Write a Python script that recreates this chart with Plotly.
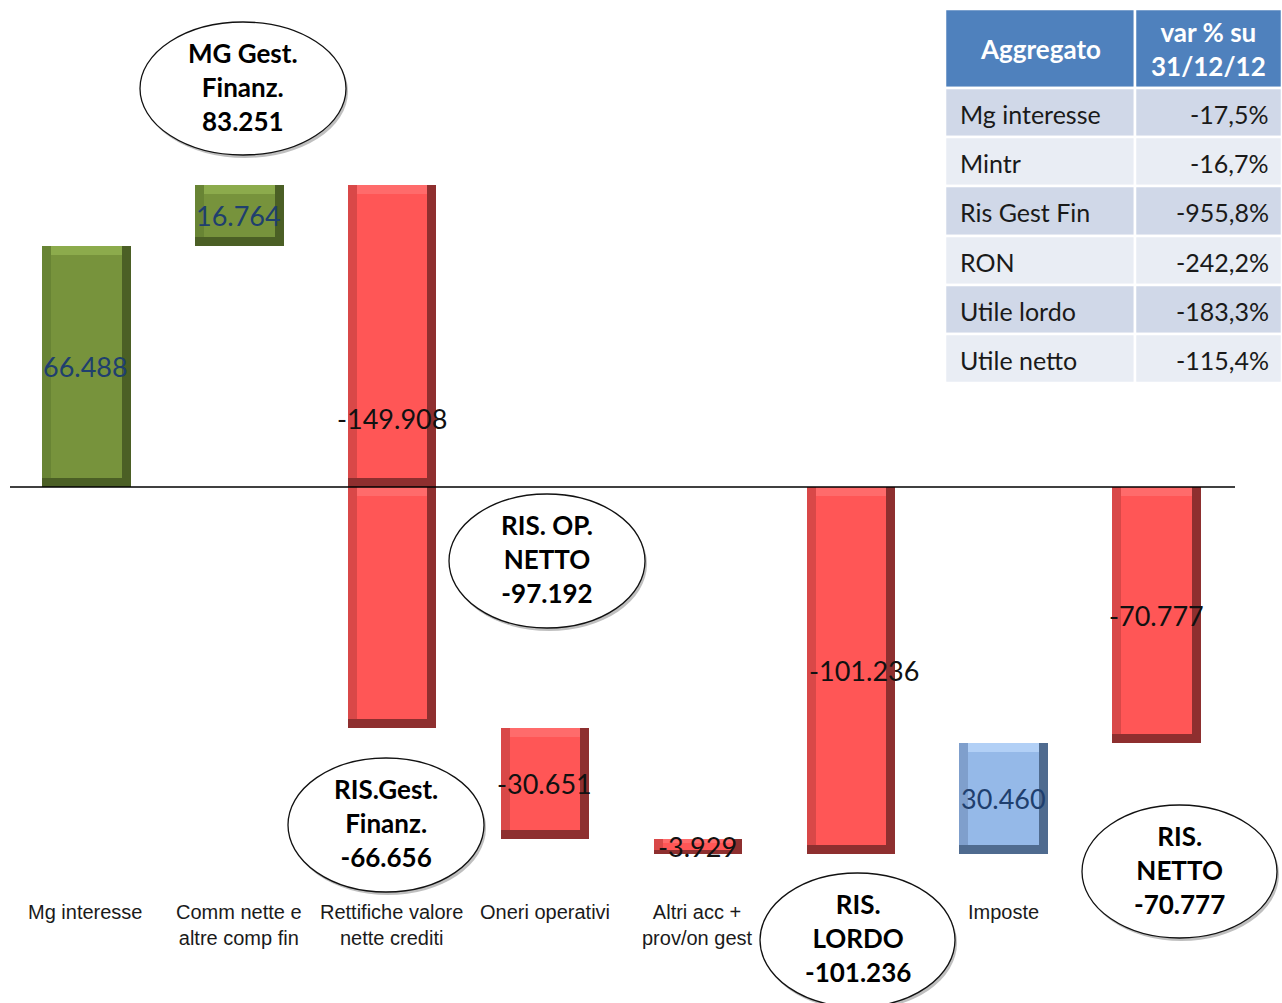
import plotly.graph_objects as go

# ---- data -------------------------------------------------------------
categories = ["Mg interesse", "Comm nette e<br>altre comp fin", "Rettifiche valore<br>nette crediti",
              "Oneri operativi", "Altri acc +<br>prov/on gest", "RIS. LORDO", "Imposte", "RIS. NETTO"]
axis_labels = ["Mg interesse", "Comm nette e<br>altre comp fin", "Rettifiche valore<br>nette crediti",
               "Oneri operativi", "Altri acc +<br>prov/on gest", "", "Imposte", ""]
values = [66.488, 16.764, -149.908, -30.651, -3.929, -101.236, 30.460, -70.777]
measures = ["relative", "relative", "relative", "relative", "relative", "total", "relative", "total"]
value_labels = ["66.488", "16.764", "-149.908", "-30.651", "-3.929", "-101.236", "30.460", "-70.777"]
bar_groups = ["green", "green", "red", "red", "red", "red", "blue", "red"]

callout_texts = ["MG Gest.<br>Finanz.<br>83.251", "RIS.Gest.<br>Finanz.<br>-66.656",
                 "RIS. OP.<br>NETTO<br>-97.192", "RIS.<br>LORDO<br>-101.236",
                 "RIS.<br>NETTO<br>-70.777"]

table_header = ["Aggregato", "var % su<br>31/12/12"]
table_names = ["Mg interesse", "Mintr", "Ris Gest Fin", "RON", "Utile lordo", "Utile netto"]
table_changes = ["-17,5%", "-16,7%", "-955,8%", "-242,2%", "-183,3%", "-115,4%"]

# ---- styling ------------------------------------------------------------
W, H = 1282, 1003
ZERO_PX = 487          # vertical pixel of the zero line
PX_PER_UNIT = 3.622    # vertical scale
X_LEFT, X_RIGHT = 9.5, 1232.5
STEP_PX = (X_RIGHT - X_LEFT) / 8

palette = {
    #        dark edge   side edge   top edge    face        label colour
    "green": ("#4b5f25", "#688434", "#8cab4c", "#77933c", "#1f3f6e"),
    "red":   ("#8e2f2f", "#d94848", "#ff6b6b", "#ff5656", "#111111"),
    "blue":  ("#4f6b8f", "#7f9fcc", "#b2d0f6", "#95b9e8", "#1f3f6e"),
}

def px(x):
    return x / W

def py(y):
    return 1 - y / H

# ---- waterfall geometry -------------------------------------------------
segments = []   # (x index, low, high, group)
bar_ranges = []
running = 0.0
for i, (v, m) in enumerate(zip(values, measures)):
    if m == "total":
        start, end = 0.0, v
        running = v
    else:
        start, end = running, running + v
        running = end
    lo, hi = min(start, end), max(start, end)
    bar_ranges.append((lo, hi))
    # bars crossing zero are drawn as two blocks meeting at the axis
    if lo < 0 < hi:
        segments.append((i, 0.0, hi, bar_groups[i]))
        segments.append((i, lo, 0.0, bar_groups[i]))
    else:
        segments.append((i, lo, hi, bar_groups[i]))

bar_w = 88.5 / STEP_PX
bev_x = 9 / STEP_PX
bev_y_full = 9 / PX_PER_UNIT

layers = {k: dict(x=[], base=[], y=[], width=[], offset=[], color=[]) for k in ("dark", "side", "top", "face")}

def add(layer, x, base, h, width, offset, color):
    d = layers[layer]
    d["x"].append(x); d["base"].append(base); d["y"].append(h)
    d["width"].append(width); d["offset"].append(offset); d["color"].append(color)

for i, lo, hi, g in segments:
    dark, side, top, face, _ = palette[g]
    h = hi - lo
    by = min(bev_y_full, h * 0.25)
    add("dark", i, lo, h, bar_w, -bar_w / 2, dark)
    add("side", i, lo + by, h - by, bar_w - bev_x, -bar_w / 2, side)
    add("top", i, hi - by, by, bar_w - 2 * bev_x, -bar_w / 2 + bev_x, top)
    add("face", i, lo + by, h - 2 * by, bar_w - 2 * bev_x, -bar_w / 2 + bev_x, face)

fig = go.Figure()
for name in ("dark", "side", "top", "face"):
    d = layers[name]
    fig.add_trace(go.Bar(
        x=d["x"], y=d["y"], base=d["base"], width=d["width"], offset=d["offset"],
        marker=dict(color=d["color"], line=dict(width=0)),
        hoverinfo="skip", showlegend=False,
    ))

# ---- value labels inside the bars --------------------------------------
label_override = {2: 19.0}   # the crossing bar carries its label above the axis
label_xshift = {5: 14}
for i, (lo, hi) in enumerate(bar_ranges):
    yc = label_override.get(i, (lo + hi) / 2)
    fig.add_annotation(
        x=i, y=yc, xref="x", yref="y", text=value_labels[i], showarrow=False,
        xshift=label_xshift.get(i, 0),
        font=dict(family="Lato, Open Sans, sans-serif", size=27, color=palette[bar_groups[i]][4]),
        xanchor="center", yanchor="middle",
    )

# ---- category labels under the plot ------------------------------------
for i, lab in enumerate(axis_labels):
    if not lab:
        continue
    fig.add_annotation(
        x=i, y=py(899), xref="x", yref="paper", text=lab, showarrow=False,
        font=dict(family="Liberation Sans, Arial, sans-serif", size=20, color="#1a1a1a"),
        xanchor="center", yanchor="top", align="center",
    )

shapes = []
# zero line
shapes.append(dict(type="line", xref="paper", yref="y", x0=px(10), x1=px(1235), y0=0, y1=0,
                   line=dict(color="#000000", width=1.5), layer="above"))

# ---- callout ellipses -------------------------------------------------
ellipses = [(140, 22, 346, 155), (288, 758, 484, 892), (449, 494, 645, 628),
            (760, 873, 955, 1007), (1082, 805, 1277, 938)]
for (x0, y0, x1, y1), txt in zip(ellipses, callout_texts):
    shapes.append(dict(type="circle", xref="paper", yref="paper",
                       x0=px(x0 + 2), x1=px(x1 + 2), y0=py(y1 + 3), y1=py(y0 + 3),
                       fillcolor="rgba(0,0,0,0.25)", line=dict(width=0), layer="above"))
    shapes.append(dict(type="circle", xref="paper", yref="paper",
                       x0=px(x0), x1=px(x1), y0=py(y1), y1=py(y0),
                       fillcolor="#ffffff", line=dict(color="#111111", width=1.3), layer="above"))
    fig.add_annotation(
        x=px((x0 + x1) / 2), y=py((y0 + y1) / 2), xref="paper", yref="paper", text=txt,
        showarrow=False, xanchor="center", yanchor="middle", align="center", yshift=2,
        font=dict(family="Lato, Open Sans, sans-serif", size=26, color="#000000", weight="bold"),
    )

# ---- summary table ------------------------------------------------------
col_x = [945, 1135, 1282]
row_y = [9, 88, 137, 186, 236, 285, 334, 383]
for c in range(2):
    shapes.append(dict(type="rect", xref="paper", yref="paper",
                       x0=px(col_x[c]), x1=px(col_x[c + 1]), y0=py(row_y[1]), y1=py(row_y[0]),
                       fillcolor="#4f81bd", line=dict(color="#ffffff", width=2.5), layer="above"))
    fig.add_annotation(
        x=px((col_x[c] + col_x[c + 1]) / 2), y=py((row_y[0] + row_y[1]) / 2),
        xref="paper", yref="paper", text=table_header[c], showarrow=False,
        xanchor="center", yanchor="middle", align="center",
        font=dict(family="Lato, Open Sans, sans-serif", size=26, color="#ffffff", weight="bold"),
    )
for r, (name, chg) in enumerate(zip(table_names, table_changes)):
    fill = "#d0d8e8" if r % 2 == 0 else "#e9edf4"
    ya, yb = row_y[r + 1], row_y[r + 2]
    for c in range(2):
        shapes.append(dict(type="rect", xref="paper", yref="paper",
                           x0=px(col_x[c]), x1=px(col_x[c + 1]), y0=py(yb), y1=py(ya),
                           fillcolor=fill, line=dict(color="#ffffff", width=2.5), layer="above"))
    fig.add_annotation(x=px(958), y=py((ya + yb) / 2 + 1), xref="paper", yref="paper", text=name,
                       showarrow=False, xanchor="left", yanchor="middle",
                       font=dict(family="Lato, Open Sans, sans-serif", size=25, color="#1a1a1a"))
    fig.add_annotation(x=px(1271), y=py((ya + yb) / 2 + 1), xref="paper", yref="paper", text=chg,
                       showarrow=False, xanchor="right", yanchor="middle",
                       font=dict(family="Lato, Open Sans, sans-serif", size=25, color="#1a1a1a"))

y_top = ZERO_PX / PX_PER_UNIT
y_bottom = -(H - ZERO_PX) / PX_PER_UNIT

fig.update_layout(
    width=W, height=H,
    margin=dict(l=0, r=0, t=0, b=0),
    paper_bgcolor="#ffffff", plot_bgcolor="#ffffff",
    barmode="overlay", bargap=0,
    shapes=shapes,
    showlegend=False,
    xaxis=dict(domain=[px(X_LEFT), px(X_RIGHT)], range=[-0.5, 7.5], visible=False, fixedrange=True),
    yaxis=dict(range=[y_bottom, y_top], visible=False, fixedrange=True),
)

fig.write_html("out.html")
